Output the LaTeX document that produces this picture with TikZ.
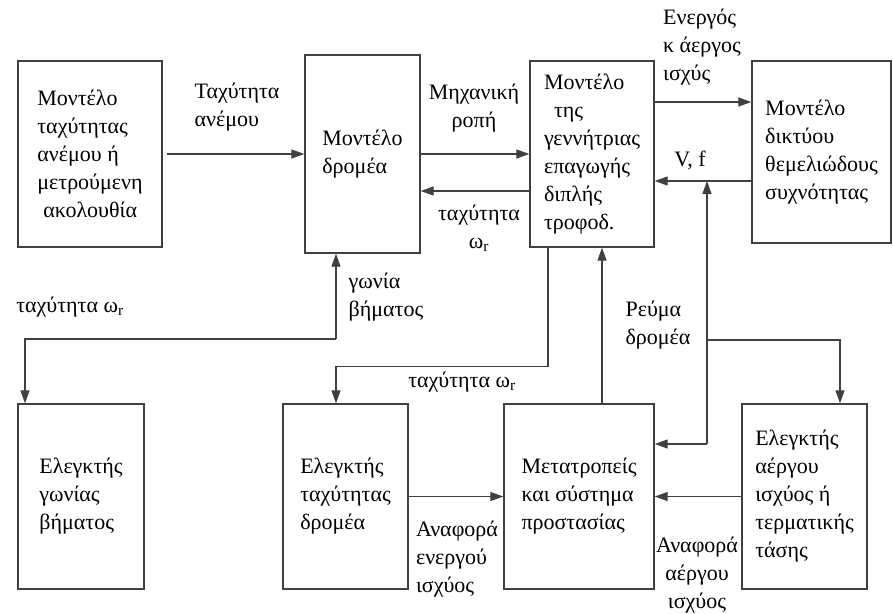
\documentclass[tikz,border=0pt]{standalone}
\usepackage{fontspec}
\setmainfont{Liberation Serif}
\usepackage{tikz}
\usetikzlibrary{arrows.meta}

\begin{document}
\begin{tikzpicture}[x=1pt,y=-1pt,
  font=\fontsize{22}{28}\selectfont,
  block/.style={draw=black!75, line width=1.4pt, align=left, inner sep=0pt},
  lbl/.style={align=left, inner sep=0pt},
  sig/.style={draw=black!75, line width=1.3pt, -{Triangle[length=13pt,width=9pt]}}]
\useasboundingbox (0,0) rectangle (893,613);

% upper row
\node[block, minimum width=144pt, minimum height=186pt] (wind) at (90,154)
  {Μοντέλο\\ταχύτητας\\ανέμου ή\\μετρούμενη\\\hspace*{6pt}ακολουθία};
\node[block, minimum width=115pt, minimum height=198pt] (rotor) at (362.5,154)
  {Μοντέλο\\δρομέα};
\node[block, minimum width=124pt, minimum height=186pt] (gen) at (592,154)
  {Μοντέλο\\\hspace*{10pt}της\\γεννήτριας\\επαγωγής\\διπλής\\τροφοδ.};
\node[block, minimum width=139pt, minimum height=182pt] (grid) at (821.5,152)
  {Μοντέλο\\δικτύου\\θεμελιώδους\\συχνότητας};

% lower row
\node[block, minimum width=126pt, minimum height=185pt] (pitch) at (81,496.5)
  {Ελεγκτής\\γωνίας\\βήματος};
\node[block, minimum width=125pt, minimum height=185pt] (speed) at (345.5,496.5)
  {Ελεγκτής\\ταχύτητας\\δρομέα};
\node[block, minimum width=150pt, minimum height=185pt] (conv) at (579,496.5)
  {Μετατροπείς\\και σύστημα\\προστασίας};
\node[block, minimum width=125pt, minimum height=185pt] (react) at (804.5,496.5)
  {Ελεγκτής\\αέργου\\ισχύος ή\\τερματικής\\τάσης};

% labels
\node[lbl] (windlbl) at (237,107) {Ταχύτητα\\ανέμου};
\node[lbl, align=center] (torque) at (474,108) {Μηχανική\\ροπή};
\node[lbl, align=center] (omegaA) at (479,228) {ταχύτητα\\ω\textsubscript{r}};
\node[lbl] (power) at (702,47) {Ενεργός\\κ άεργος\\ισχύς};
\node[lbl] (vf) at (690,160) {V, f};
\node[lbl] (pitchlbl) at (386,297) {γωνία\\βήματος};
\node[lbl] (omegaB) at (70,307) {ταχύτητα ω\textsubscript{r}};
\node[lbl] (omegaC) at (462,382) {ταχύτητα ω\textsubscript{r}};
\node[lbl] (irlbl) at (658,325) {Ρεύμα\\δρομέα};
\node[lbl] (pref) at (457,559) {Αναφορά\\ενεργού\\ισχύος};
\node[lbl, align=center] (qref) at (697,575) {Αναφορά\\αέργου\\ισχύος};

% connectors
\draw[sig] ([xshift=4pt]wind.east) -- (rotor.west);
\draw[sig] (rotor.east) -- (gen.west);
\draw[sig] ([yshift=-37pt]gen.west) -- ([yshift=-37pt]rotor.east);
\draw[sig] ([yshift=52pt]gen.east) -- ([yshift=50pt]grid.west);
\draw[sig] ([yshift=-29pt]grid.west) coordinate (vfline) -- (vfline -| gen.east);

\coordinate (ir) at (707,444);
\coordinate (irb) at (707,340);
\draw[sig] (ir) -- (ir -| conv.east);
\draw[sig] (ir) -- (ir |- vfline);
\draw[sig] (irb) -| ([xshift=35.5pt]react.north);
\draw[sig] ([xshift=23pt]conv.north) -- ([xshift=10pt]gen.south);
\draw[sig] ([xshift=-44pt]gen.south) -- ++(0,119) -| ([xshift=-9.5pt]speed.north);

\coordinate (pj) at (336,339);
\draw[sig] (pj) -- ([xshift=-26.5pt]rotor.south);
\draw[sig] (pj) -| ([xshift=-56pt]pitch.north);
\draw[sig] (speed) -- (conv);
\draw[sig] (react) -- (conv);
\end{tikzpicture}
\end{document}
